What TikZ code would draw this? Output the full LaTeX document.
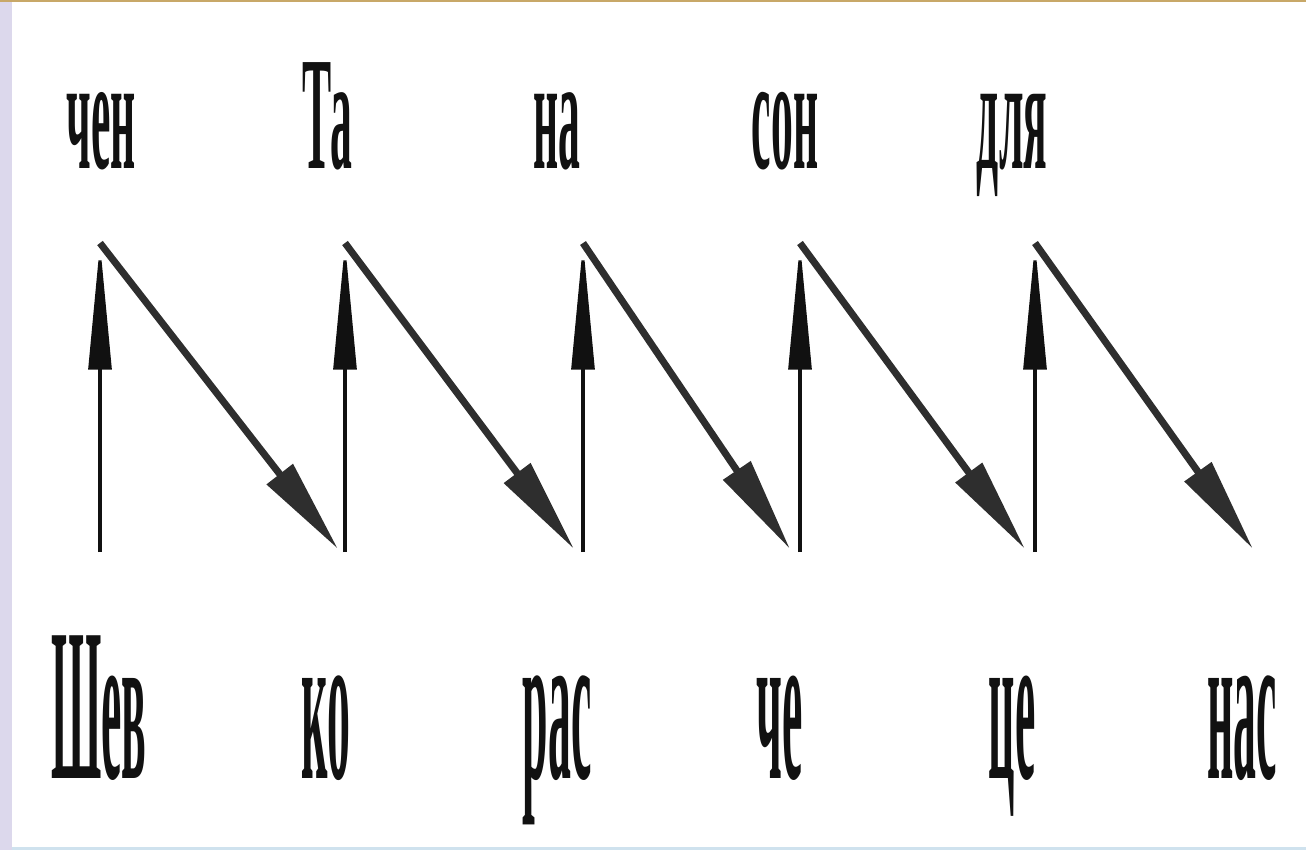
\documentclass[tikz,border=0pt]{standalone}
\usepackage{fontspec}
\setmainfont{Liberation Serif}
\usetikzlibrary{arrows.meta}
\definecolor{Ink}{HTML}{111111}
\definecolor{Slope}{HTML}{2E2E2E}
\definecolor{Edge}{HTML}{DCD8EC}
\definecolor{EdgeTop}{HTML}{C8A868}
\definecolor{EdgeLow}{HTML}{CFE2EE}

\begin{document}
\begin{tikzpicture}[x=0.01cm,y=-0.01cm,
  topsyl/.style={font=\bfseries\fontsize{46}{46}\selectfont,anchor=base,xscale=0.27,inner sep=0pt,Ink},
  lowsyl/.style={font=\bfseries\fontsize{62}{62}\selectfont,anchor=base,xscale=0.21,inner sep=0pt,Ink},
  rise/.style={draw=Ink,line width=0.9pt,-{Triangle[length=36pt,width=6.5pt]}},
  fall/.style={draw=Slope,line width=2pt,-{Triangle[length=27pt,width=9pt]}}]
  \useasboundingbox (0,0) rectangle (1306,850);
  % screen edges
  \fill[Edge] (0,0) rectangle (12,850);
  \fill[EdgeTop] (0,0) rectangle (1306,2);
  \fill[EdgeLow] (12,847) rectangle (1306,850);
  % syllables, upper row
  \foreach \i/\x/\txt in {1/101/чен, 2/327/Та, 3/557/на, 4/785/сон, 5/1012/для}
    \node[topsyl] (t\i) at (\x,168) {\txt};
  % syllables, lower row
  \foreach \i/\x/\txt in {1/99/Шев, 2/326/ко, 3/557/рас, 4/780/че, 5/1012/це, 6/1242/нас}
    \node[lowsyl] (b\i) at (\x,778) {\txt};
  % zigzag
  \foreach \i/\xa/\xb in {1/100/338, 2/345/574, 3/583/790, 4/800/1025, 5/1035/1253} {
    \coordinate (dn\i) at (\xa,552);
    \coordinate (up\i) at (\xa,243);
    \coordinate (end\i) at (\xb,549);
    \draw[rise] (dn\i) -- (up\i);
    \draw[fall] (up\i) -- (end\i);
  }
\end{tikzpicture}
\end{document}
